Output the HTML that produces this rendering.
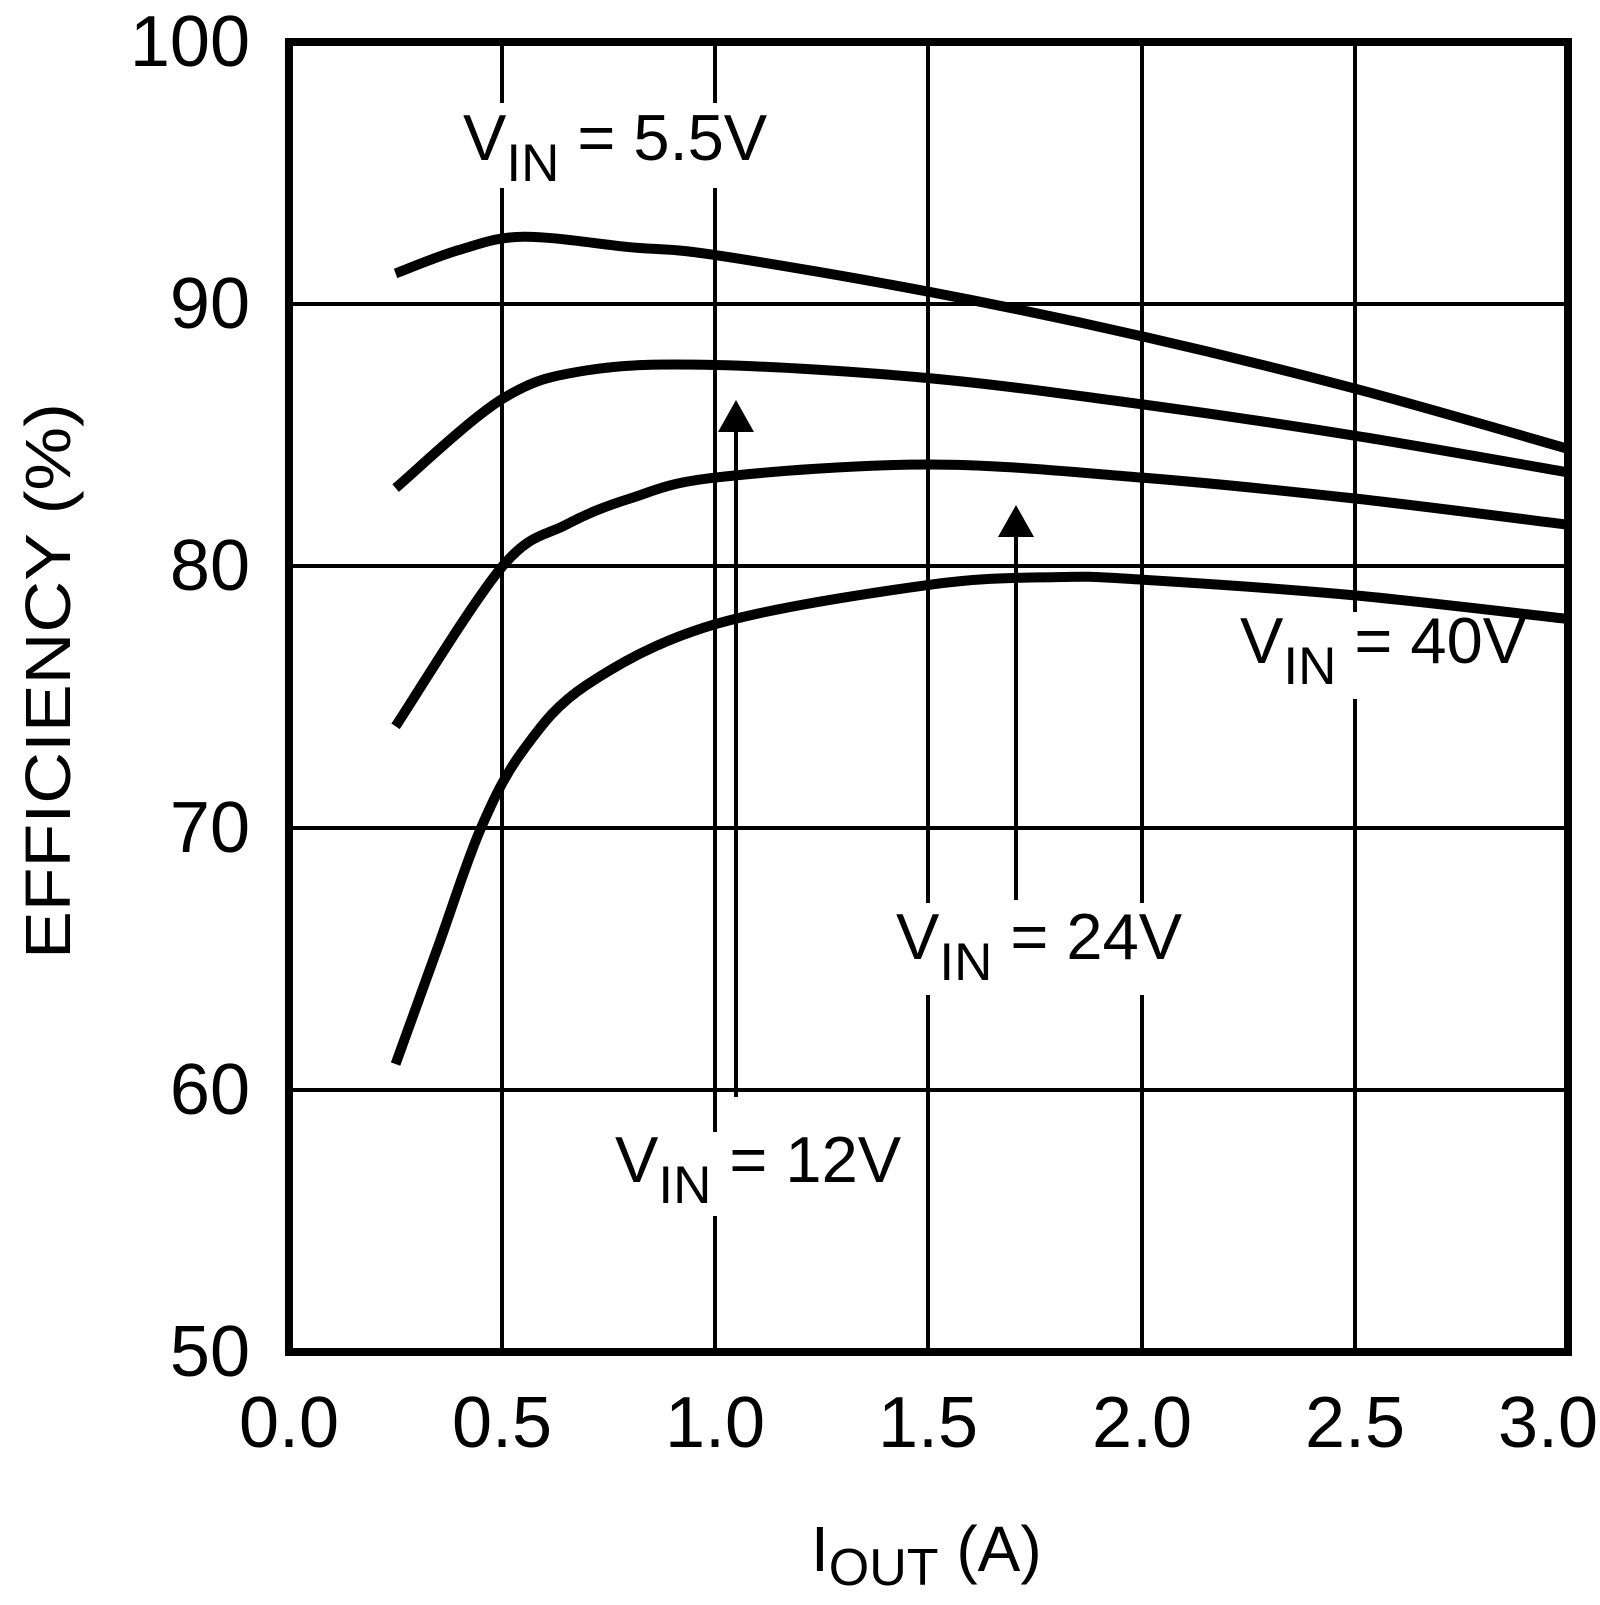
<!DOCTYPE html>
<html><head><meta charset="utf-8"><style>html,body{margin:0;padding:0;background:#fff}</style></head>
<body>
<svg id="s" width="1600" height="1600" viewBox="0 0 1600 1600" xmlns="http://www.w3.org/2000/svg" font-family="Liberation Sans, Arial, sans-serif">
<g stroke="#000" stroke-width="4">
<line x1="502" y1="42" x2="502" y2="1352"/>
<line x1="715" y1="42" x2="715" y2="1352"/>
<line x1="928" y1="42" x2="928" y2="1352"/>
<line x1="1142" y1="42" x2="1142" y2="1352"/>
<line x1="1355" y1="42" x2="1355" y2="1352"/>
<line x1="289" y1="304" x2="1568" y2="304"/>
<line x1="289" y1="566" x2="1568" y2="566"/>
<line x1="289" y1="828" x2="1568" y2="828"/>
<line x1="289" y1="1090" x2="1568" y2="1090"/>
</g>
<g fill="#fff">
<rect x="455" y="103" width="315" height="85"/>
<rect x="1233" y="612" width="293" height="87"/>
<rect x="888" y="903" width="296" height="92"/>
<rect x="607" y="1132" width="296" height="84"/>
</g>
<rect x="289" y="42" width="1279" height="1310" fill="none" stroke="#000" stroke-width="8"/>
<g id="curves" fill="none" stroke="#000" stroke-width="10" stroke-linecap="butt"></g>
<g stroke="#000" stroke-width="4">
<line x1="736" y1="1097" x2="736" y2="425"/>
<line x1="1016" y1="900" x2="1016" y2="530"/>
</g>
<polygon points="736,400 718,432 754,432" fill="#000"/>
<polygon points="1016,505 998,537 1034,537" fill="#000"/>
<g font-size="72" text-anchor="middle">
<text x="289" y="1447">0.0</text><text x="502" y="1447">0.5</text><text x="715" y="1447">1.0</text>
<text x="928" y="1447">1.5</text><text x="1142" y="1447">2.0</text><text x="1355" y="1447">2.5</text><text x="1548" y="1447">3.0</text>
</g>
<g font-size="72" text-anchor="end">
<text x="250" y="66">100</text><text x="250" y="328">90</text><text x="250" y="590">80</text>
<text x="250" y="852">70</text><text x="250" y="1114">60</text><text x="250" y="1376">50</text>
</g>
<text transform="translate(70,681) rotate(-90)" font-size="64" text-anchor="middle" textLength="556" lengthAdjust="spacingAndGlyphs">EFFICIENCY (%)</text>
<text x="811" y="1571" font-size="64">I<tspan font-size="52" dy="14">OUT</tspan><tspan dy="-14"> (A)</tspan></text>
<g font-size="65">
<text x="463" y="160">V<tspan font-size="53" dy="21">IN</tspan><tspan dy="-21"> = 5.5V</tspan></text>
<text x="1240" y="663">V<tspan font-size="53" dy="21">IN</tspan><tspan dy="-21"> = 40V</tspan></text>
<text x="896" y="959">V<tspan font-size="53" dy="21">IN</tspan><tspan dy="-21"> = 24V</tspan></text>
<text x="615" y="1182">V<tspan font-size="53" dy="21">IN</tspan><tspan dy="-21"> = 12V</tspan></text>
</g>
</svg>
<script>
var data=[
[[0.25,91.2],[0.4,92.1],[0.55,92.6],[0.8,92.2],[1.0,91.9],[1.5,90.5],[2.0,88.8],[2.5,86.8],[3.0,84.5]],
[[0.25,83],[0.5,86.4],[0.7,87.5],[1.0,87.7],[1.5,87.2],[2.0,86.2],[2.5,85],[3.0,83.6]],
[[0.25,73.9],[0.5,80],[0.65,81.6],[0.8,82.6],[1.0,83.4],[1.5,83.9],[2.0,83.4],[2.5,82.6],[3.0,81.6]],
[[0.25,61],[0.35,65.5],[0.45,70],[0.55,73],[0.7,75.5],[1.0,77.8],[1.5,79.3],[1.8,79.6],[2.0,79.5],[2.5,78.9],[3.0,78]]];
function X(i){return 289+i*426.3} function Y(e){return 1352-(e-50)*26.18}
var g=document.getElementById('curves');
data.forEach(function(d){
 var p=d.map(function(q){return [X(q[0]),Y(q[1])]});
 var s='M'+p[0][0]+','+p[0][1];
 for(var i=0;i<p.length-1;i++){
  var p0=p[i-1]||p[i],p1=p[i],p2=p[i+1],p3=p[i+2]||p2;
  var c1=[p1[0]+(p2[0]-p0[0])/6,p1[1]+(p2[1]-p0[1])/6];
  var c2=[p2[0]-(p3[0]-p1[0])/6,p2[1]-(p3[1]-p1[1])/6];
  s+=' C'+c1+' '+c2+' '+p2;
 }
 var e=document.createElementNS('http://www.w3.org/2000/svg','path');
 e.setAttribute('d',s);g.appendChild(e);
});
</script>
</body></html>
